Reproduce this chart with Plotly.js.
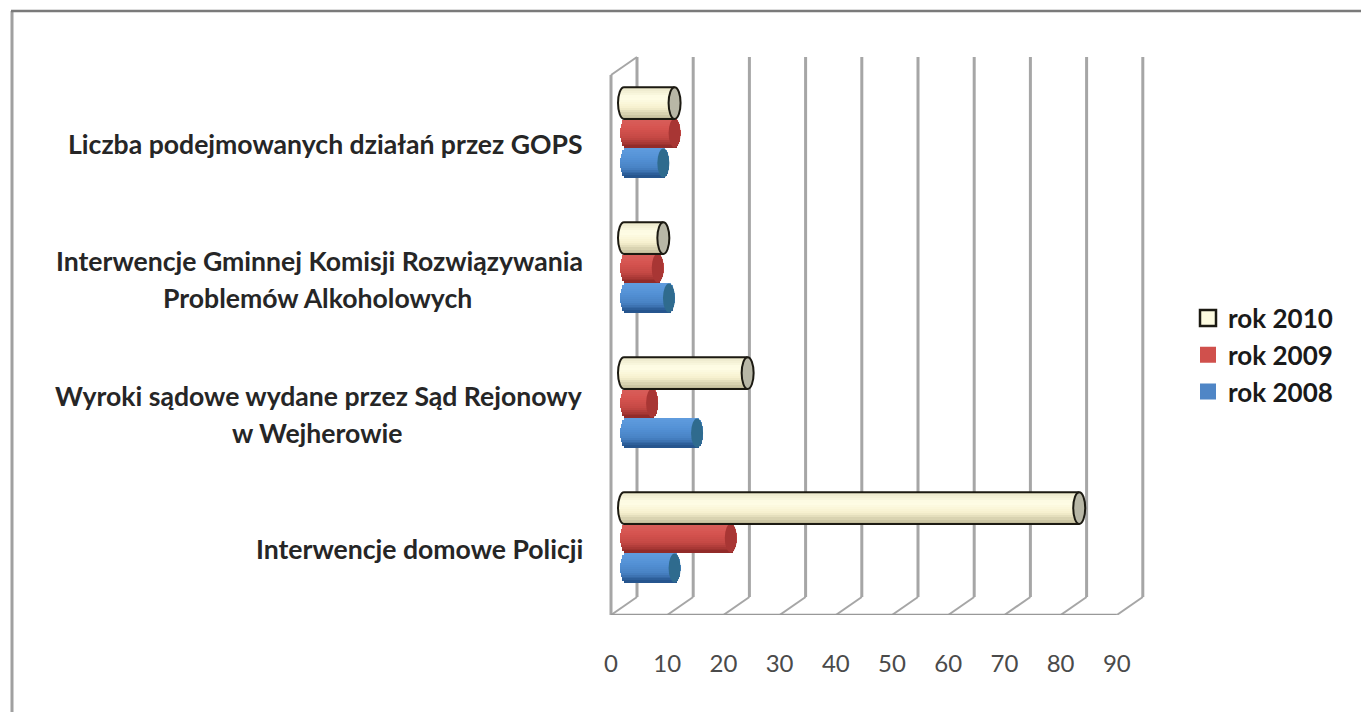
<!DOCTYPE html>
<html><head><meta charset="utf-8">
<script src="https://cdn.plot.ly/plotly-3.0.1.min.js"></script>
<style>html,body{margin:0;padding:0;background:#fff}#c{width:1361px;height:712px}</style></head>
<body><div id="c"></div>
<script>
const categories = ["Interwencje domowe Policji",
  "Wyroki sądowe wydane przez Sąd Rejonowy<br>w Wejherowie",
  "Interwencje Gminnej Komisji Rozwiązywania<br>Problemów Alkoholowych",
  "Liczba podejmowanych działań przez GOPS"];
const values2008 = [9, 13, 8, 7];
const values2009 = [19, 5, 6, 9];
const values2010 = [81, 22, 7, 9];
const xTicks = [0,10,20,30,40,50,60,70,80,90];

const W=1361,H=712,X0=611,UX=5.62,BOTTOM=615,YC0=538,UY=135;
const px=p=>(p-X0)/UX, py=p=>(YC0-p)/UY;
const dx=26/UX, dy=18/UY, start=13/UX, rx=6/UX;
const BANDS=15, bh=0.215;

function lerp(a,b,t){return a.map((v,i)=>Math.round(v+(b[i]-v)*t));}
function grad(stops,t){const n=stops.length-1,i=Math.min(n-1,Math.floor(t*n));const c=lerp(stops[i],stops[i+1],t*n-i);return `rgb(${c[0]},${c[1]},${c[2]})`;}

const series=[
 {name:'rok 2008',v:values2008,off:-0.222,lead:2/UX,stops:[[96,156,222],[84,146,214],[72,130,196],[34,80,136]],cap:'#2f6b8e',sw:'#4f86c6',ln:'#4f86c6',h:bh},
 {name:'rok 2009',v:values2009,off:0,lead:2/UX,stops:[[216,96,92],[214,84,80],[196,72,68],[140,40,38]],cap:'#a83634',sw:'#d0504c',ln:'#d0504c',h:bh},
 {name:'rok 2010',v:values2010,off:0.222,lead:0,stops:[[232,228,198],[255,253,230],[246,240,206],[188,182,148]],cap:'#b8b7a6',sw:'#fdfbe0',ln:'#1c1a12',h:0.235}
];
const traces=[];
series.forEach(s=>{
  for(let b=0;b<BANDS;b++){
    const t=(b+0.5)/BANDS, q=2*t-1, k=Math.sqrt(1-q*q)*rx;
    const h=s.h/BANDS;
    traces.push({type:'bar',orientation:'h',showlegend:false,hoverinfo:'skip',
      y:categories.map((c,i)=>i+s.off+s.h/2-(b+0.5)*h),
      base:categories.map(()=>start+s.lead-k),
      x:s.v.map(v=>v-s.lead+k+k),
      width:h*1.15,
      marker:{color:grad(s.stops,t),line:{width:0}}});
  }
});
[...series].reverse().forEach(s=>{
  traces.push({type:'scatter',mode:'markers',name:s.name,x:[null],y:[null],
    marker:{symbol:'square',size:18,color:s.sw,line:{color:s.ln,width:s.ln==='#1c1a12'?2.5:0}}});
});

const shapes=[];
const grid={color:'#a6a6a6',width:3};
const yb=py(BOTTOM), yTop=py(57);
xTicks.forEach(t=>{
  shapes.push({type:'line',layer:'below',xref:'x',yref:'y',x0:t+dx,x1:t+dx,y0:yb+dy,y1:yTop,line:grid});
  shapes.push({type:'line',layer:'below',xref:'x',yref:'y',x0:t,x1:t+dx,y0:yb,y1:yb+dy,line:{color:'#a6a6a6',width:2}});
});
shapes.push({type:'line',layer:'below',xref:'x',yref:'y',x0:0,x1:0,y0:yb,y1:yTop-dy,line:grid});
shapes.push({type:'line',layer:'below',xref:'x',yref:'y',x0:0,x1:dx,y0:yTop-dy,y1:yTop,line:{color:'#a6a6a6',width:2}});
shapes.push({type:'line',layer:'below',xref:'x',yref:'y',x0:0,x1:90,y0:yb,y1:yb,line:{color:'#999999',width:2.5}});
// photo frame: top and left edges only
shapes.push({type:'line',layer:'below',xref:'x',yref:'y',x0:px(11),x1:px(W),y0:py(11),y1:py(11),line:{color:'#7a7a7a',width:2.5}});
shapes.push({type:'line',layer:'below',xref:'x',yref:'paper',x0:px(12),x1:px(12),y0:(BOTTOM-11)/BOTTOM,y1:(BOTTOM-H)/BOTTOM,line:{color:'#a0a0a0',width:3}});

const k=0.5523;
series.forEach(s=>{
  categories.forEach((c,i)=>{
    const yc=i+s.off, ry=s.h/2, e=start+s.v[i], dark=s.ln==='#1c1a12';
    shapes.push({type:'circle',layer:'above',xref:'x',yref:'y',x0:e-rx,x1:e+rx,y0:yc-ry,y1:yc+ry,
      fillcolor:s.cap,line:{color:dark?s.ln:s.cap,width:dark?2:0}});
    if(dark){
      const a=start-rx, b=start;
      const path=`M ${e} ${yc+ry} L ${b} ${yc+ry} C ${b-rx*k} ${yc+ry} ${a} ${yc+ry*k} ${a} ${yc} C ${a} ${yc-ry*k} ${b-rx*k} ${yc-ry} ${b} ${yc-ry} L ${e} ${yc-ry}`;
      shapes.push({type:'path',layer:'above',xref:'x',yref:'y',path,line:{color:s.ln,width:2}});
    }
  });
});

const labelFont={family:'Lato, sans-serif',size:26.6,color:'#262626',weight:700};
const annotations=[];
categories.forEach((c,i)=>{
  const lines=c.split('<br>');
  if(lines.length===1){
    annotations.push({xref:'x',yref:'y',x:px(585),y:i-11/UY,xanchor:'right',yanchor:'middle',showarrow:false,text:'<b>'+lines[0]+'</b>',font:labelFont});
  } else {
    annotations.push({xref:'x',yref:'y',x:px(585),y:i+7/UY,xanchor:'right',yanchor:'middle',showarrow:false,text:'<b>'+lines[0]+'</b>',font:labelFont});
    annotations.push({xref:'x',yref:'y',x:px(317),y:i-30/UY,xanchor:'center',yanchor:'middle',showarrow:false,text:'<b>'+lines[1]+'</b>',font:labelFont});
  }
});

const layout={
  width:W,height:H,margin:{l:0,r:0,t:0,b:H-BOTTOM,pad:0},
  paper_bgcolor:'#fff',plot_bgcolor:'#fff',barmode:'overlay',bargap:0,
  xaxis:{range:[px(0),px(W)],tickmode:'array',tickvals:xTicks,ticktext:xTicks.map(String),
    showgrid:false,zeroline:false,showline:false,ticks:'outside',ticklen:27,tickcolor:'rgba(0,0,0,0)',
    tickfont:{family:'Lato, sans-serif',size:24,color:'#4a4a4a'}},
  yaxis:{range:[py(BOTTOM),py(0)],visible:false,fixedrange:true},
  legend:{x:1188/W,y:(BOTTOM-355)/BOTTOM,xref:'paper',yref:'paper',traceorder:'normal',font:{family:'Lato, sans-serif',size:26,color:'#1a1a1a',weight:700},
    itemsizing:'trace',itemwidth:30,tracegroupgap:0,bgcolor:'rgba(0,0,0,0)',xanchor:'left',yanchor:'middle'},
  shapes,annotations,showlegend:true
};
Plotly.newPlot('c',traces,layout,{displayModeBar:false,staticPlot:true});
</script></body></html>
